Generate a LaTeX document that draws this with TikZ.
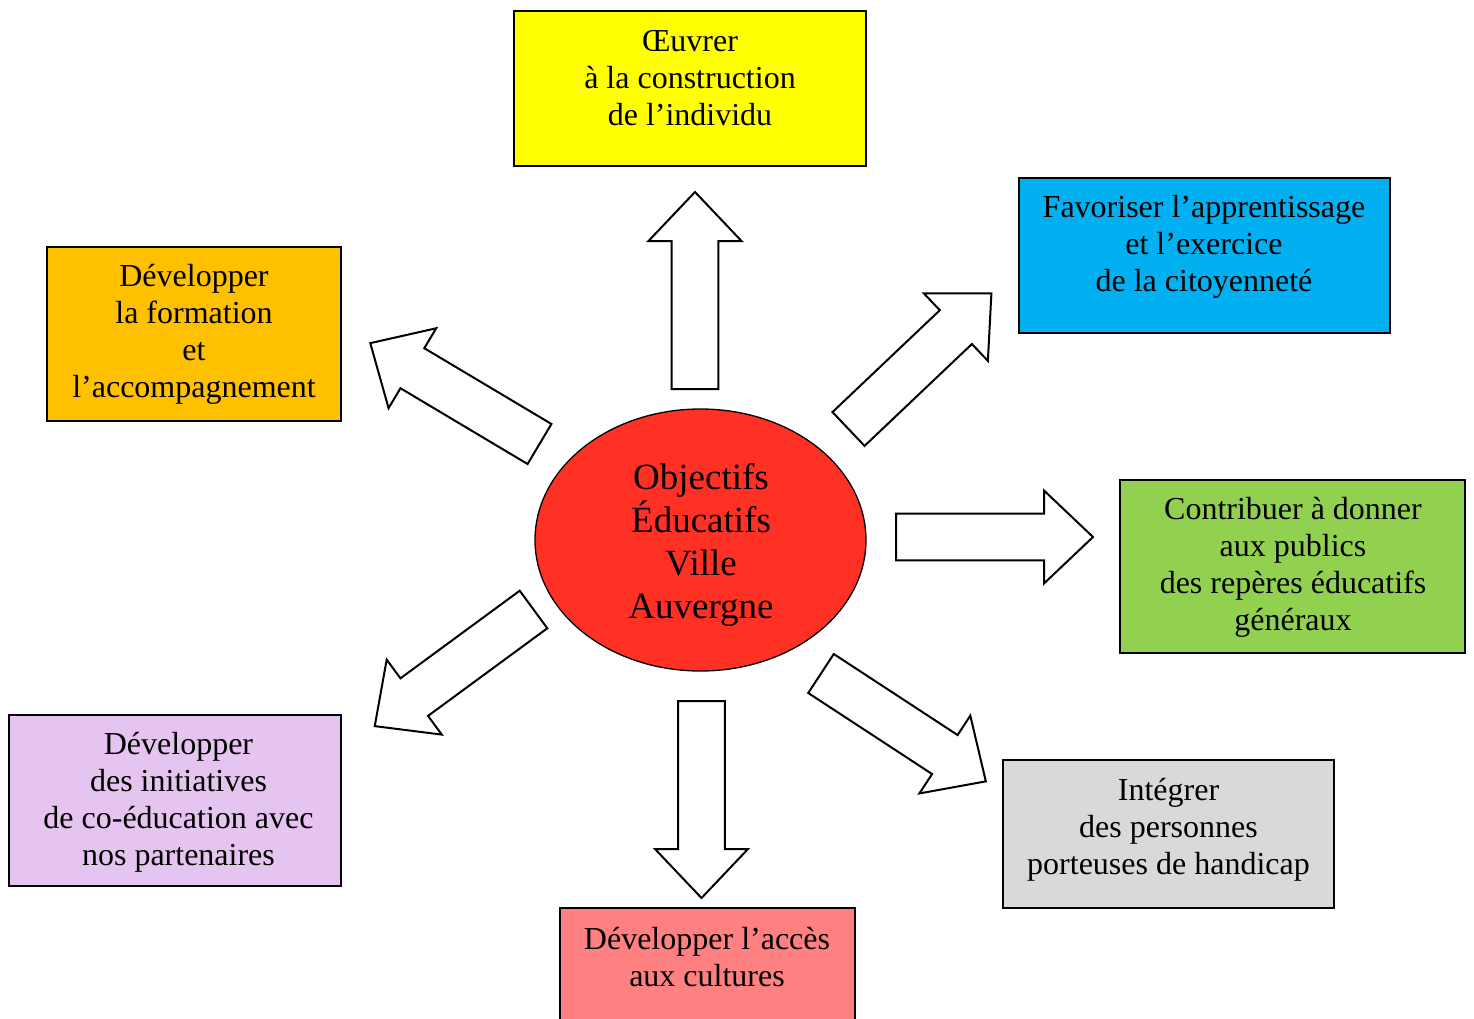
\documentclass[tikz,border=0pt]{standalone}
\usepackage{fontspec}
\setmainfont{Liberation Serif}
\usetikzlibrary{shapes.geometric}
\definecolor{cyellow}{RGB}{255,255,0}
\definecolor{cblue}{RGB}{0,176,240}
\definecolor{corange}{RGB}{255,192,0}
\definecolor{cgreen}{RGB}{146,208,80}
\definecolor{cgrey}{RGB}{217,217,217}
\definecolor{cpurple}{RGB}{230,196,240}
\definecolor{csalmon}{RGB}{255,128,128}
\definecolor{cred}{RGB}{255,48,36}
\tikzset{
  box/.style={draw=black, line width=1.3pt, rectangle, inner sep=0pt},
  txt/.style={align=center, font=\fontsize{32}{37}\selectfont, inner sep=0pt},
  bigtxt/.style={align=center, font=\fontsize{37}{43}\selectfont, inner sep=0pt},
  barrow/.style={draw=black, fill=white, line width=2pt, line join=miter},
  centre/.style={draw=black, fill=cred, ellipse, line width=1.3pt, inner sep=0pt,
     minimum width=331pt, minimum height=262pt}
}
\newcommand{\blockarrow}[3]{%
  \begin{scope}[shift={(#1,#2)},rotate=#3]
    \draw[barrow] (0,-23.3) -- (148,-23.3) -- (148,-46.5) -- (197,0)
      -- (148,46.5) -- (148,23.3) -- (0,23.3) -- cycle;
  \end{scope}}
\begin{document}
\begin{tikzpicture}[x=1pt,y=-1pt]
\clip (0,0) rectangle (1474,1019);
\fill[white] (0,0) rectangle (1474,1019);

% boxes
\node[box, fill=cyellow, minimum width=352pt, minimum height=155pt] (bY) at (690,88.5) {};
\node[txt] (tY) at (690,78.5) {Œuvrer\\à la construction\\de l’individu};

\node[box, fill=cblue, minimum width=371pt, minimum height=155pt] (bB) at (1204.5,255.5) {};
\node[txt] (tB) at (1204,247) {Favoriser l’apprentissage\\et l’exercice\\de la citoyenneté};

\node[box, fill=corange, minimum width=294pt, minimum height=174pt] (bO) at (194,334) {};
\node[txt] (tO) at (194,334.5) {Développer\\la formation\\et\\l’accompagnement};

\node[box, fill=cgreen, minimum width=345pt, minimum height=173pt] (bG) at (1292.5,566.5) {};
\node[txt] (tG) at (1293,567) {Contribuer à donner\\aux publics\\des repères éducatifs\\généraux};

\node[box, fill=cgrey, minimum width=331pt, minimum height=148pt] (bR) at (1168.5,834) {};
\node[txt] (tR) at (1168.5,830) {Intégrer\\des personnes\\porteuses de handicap};

\node[box, fill=cpurple, minimum width=332pt, minimum height=171pt] (bP) at (175,800.5) {};
\node[txt] (tP) at (178.5,802) {Développer\\des initiatives\\de co-éducation avec\\nos partenaires};

\node[box, fill=csalmon, minimum width=295pt, minimum height=140pt] (bS) at (707.5,978) {};
\node[txt] (tS) at (707,957.5) {Développer l’accès\\aux cultures};

% centre
\node[centre] (c) at (700.5,540) {};
\node[bigtxt] (tc) at (701,545) {Objectifs\\Éducatifs\\Ville\\Auvergne};

% block arrows
\blockarrow{695}{389}{90}
\blockarrow{701.5}{701}{-90}
\blockarrow{896}{537}{0}
\blockarrow{848.5}{429}{43.5}
\blockarrow{539.5}{444}{149.2}
\blockarrow{533.5}{609.5}{216.3}
\blockarrow{821}{673.5}{-33.2}
\end{tikzpicture}
\end{document}
